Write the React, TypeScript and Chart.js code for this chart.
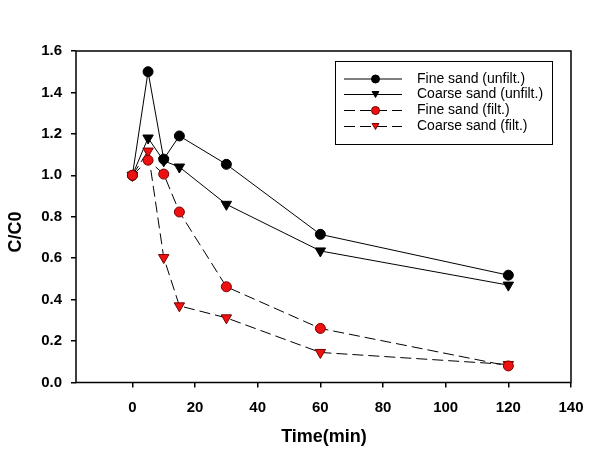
import React, { useEffect, useRef } from "react";
import { Chart, registerables } from "chart.js";

Chart.register(...registerables);

const timeMin = [0, 5, 10, 15, 30, 60, 120];
const fineUnfilt = [1.0, 1.5, 1.078, 1.19, 1.053, 0.715, 0.518];
const coarseUnfilt = [1.0, 1.18, 1.07, 1.04, 0.86, 0.635, 0.47];
const fineFilt = [1.0, 1.073, 1.006, 0.823, 0.462, 0.261, 0.08];
const coarseFilt = [1.0, 1.117, 0.603, 0.37, 0.312, 0.145, 0.087];
const seriesNames = [
  "Fine sand (unfilt.)",
  "Coarse sand (unfilt.)",
  "Fine sand (filt.)",
  "Coarse sand (filt.)",
];
const xTicks = [0, 20, 40, 60, 80, 100, 120, 140];
const yTicks = [0, 0.2, 0.4, 0.6, 0.8, 1.0, 1.2, 1.4, 1.6];
const xTitle = "Time(min)";
const yTitle = "C/C0";

const FONT = "'Liberation Sans', Arial, sans-serif";
const RED = "#ee1111";
const DARKRED = "#7a0000";

type Style = {
  fill: string;
  stroke: string;
  shape: "circle" | "tri";
  dash: number[];
};
const styles: Style[] = [
  { fill: "#000", stroke: "#000", shape: "circle", dash: [] },
  { fill: "#000", stroke: "#000", shape: "tri", dash: [] },
  { fill: RED, stroke: DARKRED, shape: "circle", dash: [11, 5] },
  { fill: RED, stroke: DARKRED, shape: "tri", dash: [11, 5] },
];

function drawMarker(ctx: CanvasRenderingContext2D, s: Style, x: number, y: number, r: number) {
  ctx.save();
  ctx.setLineDash([]);
  ctx.fillStyle = s.fill;
  ctx.strokeStyle = s.stroke;
  ctx.lineWidth = 1;
  ctx.beginPath();
  if (s.shape === "circle") {
    ctx.arc(x, y, r, 0, Math.PI * 2);
  } else {
    const h = r * 1.5;
    const w = r * 1.7;
    ctx.moveTo(x - w / 2, y - h / 2);
    ctx.lineTo(x + w / 2, y - h / 2);
    ctx.lineTo(x, y + h / 2);
    ctx.closePath();
  }
  ctx.fill();
  ctx.stroke();
  ctx.restore();
}

const customPlugin = {
  id: "custom",
  afterDraw(chart: any) {
    const ctx: CanvasRenderingContext2D = chart.ctx;
    const a = chart.chartArea;
    ctx.save();
    // frame
    ctx.strokeStyle = "#000";
    ctx.lineWidth = 1.5;
    ctx.strokeRect(a.left, a.top, a.right - a.left, a.bottom - a.top);
    // axis titles
    ctx.fillStyle = "#000";
    ctx.font = `bold 18px ${FONT}`;
    ctx.textAlign = "center";
    ctx.textBaseline = "middle";
    ctx.fillText(xTitle, 324, 437);
    ctx.save();
    ctx.translate(16, 232);
    ctx.rotate(-Math.PI / 2);
    ctx.fillText(yTitle, 0, 0);
    ctx.restore();
    // legend
    ctx.lineWidth = 1;
    ctx.strokeRect(335.5, 61.5, 217, 83);
    const rows = [79, 94.5, 110.5, 126.5];
    ctx.font = `14px ${FONT}`;
    ctx.textAlign = "left";
    seriesNames.forEach((name, i) => {
      const s = styles[i];
      const y = rows[i];
      ctx.save();
      ctx.strokeStyle = "#000";
      ctx.lineWidth = 1;
      ctx.setLineDash(s.dash);
      ctx.beginPath();
      ctx.moveTo(344, y);
      ctx.lineTo(402, y);
      ctx.stroke();
      ctx.restore();
      drawMarker(ctx, s, 375.5, y, 4);
      ctx.fillStyle = "#000";
      ctx.fillText(name, 417, y);
    });
    ctx.restore();
  },
};

export default function App() {
  const ref = useRef<HTMLCanvasElement | null>(null);
  useEffect(() => {
    document.body.style.margin = "0";
    const canvas = ref.current;
    if (!canvas) return;
    const series = [fineUnfilt, coarseUnfilt, fineFilt, coarseFilt];
    const orders = [2, 3, 0, 1];
    const datasets = series.map((vals, i) => {
      const s = styles[i];
      return {
        label: seriesNames[i],
        data: timeMin.map((t, j) => ({ x: t, y: vals[j] })),
        borderColor: "#000",
        borderWidth: 1,
        borderDash: s.dash,
        backgroundColor: s.fill,
        pointBackgroundColor: s.fill,
        pointBorderColor: s.stroke,
        pointBorderWidth: 1,
        pointStyle: s.shape === "circle" ? "circle" : "triangle",
        pointRotation: s.shape === "circle" ? 0 : 180,
        pointRadius: s.shape === "circle" ? 5 : 6,
        tension: 0,
        showLine: true,
        order: orders[i],
      };
    });
    const chart = new Chart(canvas, {
      type: "scatter",
      data: { datasets: datasets as any },
      options: {
        responsive: false,
        animation: false,
        layout: { padding: { left: 0, top: 51, right: 26, bottom: 0 } },
        plugins: {
          legend: { display: false },
          tooltip: { enabled: false },
        },
        scales: {
          x: {
            type: "linear",
            min: -18,
            max: 140,
            afterBuildTicks: (scale: any) => {
              scale.ticks = xTicks.map((v) => ({ value: v }));
            },
            afterFit: (scale: any) => {
              scale.height = 67.5;
            },
            border: { display: false },
            grid: {
              display: true,
              drawOnChartArea: false,
              drawTicks: true,
              tickLength: 5,
              color: "#000",
              lineWidth: 1.5,
            },
            ticks: {
              color: "#000",
              font: { family: FONT, size: 15, weight: "bold" },
              padding: 11,
              maxRotation: 0,
              callback: (v: any) => String(v),
            },
          },
          y: {
            type: "linear",
            min: 0,
            max: 1.6,
            afterBuildTicks: (scale: any) => {
              scale.ticks = yTicks.map((v) => ({ value: v }));
            },
            afterFit: (scale: any) => {
              scale.width = 76;
            },
            border: { display: false },
            grid: {
              display: true,
              drawOnChartArea: false,
              drawTicks: true,
              tickLength: 5,
              color: "#000",
              lineWidth: 1.5,
            },
            ticks: {
              color: "#000",
              font: { family: FONT, size: 15, weight: "bold" },
              padding: 9,
              callback: (v: any) => Number(v).toFixed(1),
            },
          },
        },
      } as any,
      plugins: [customPlugin],
    });
    return () => chart.destroy();
  }, []);
  return <canvas ref={ref} width={597} height={450} style={{ display: "block" }} />;
}
